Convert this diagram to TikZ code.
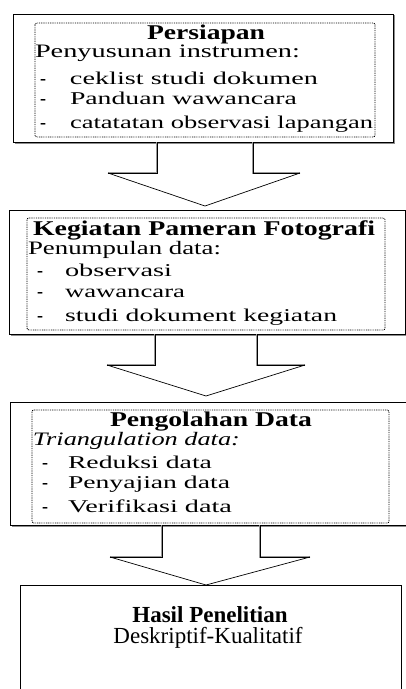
\documentclass[tikz,border=0pt]{standalone}
\usepackage{fontspec}
\usepackage{graphicx}
\setmainfont{Liberation Serif}
\newcommand\fitw[2]{\resizebox{#1pt}{\height}{#2}}
\newcommand\hdf{\fontsize{21}{24}\selectfont\bfseries}
\newcommand\subf{\fontsize{19}{22}\selectfont}
\newcommand\itmf{\fontsize{18}{20}\selectfont}
\newcommand\bigf{\fontsize{23}{27}\selectfont}
\begin{document}
\begin{tikzpicture}[x=1pt,y=-1pt,
  outerbox/.style={draw=black, line width=1pt},
  shadowline/.style={draw=black!45, line width=2.2pt},
  innerbox/.style={draw=black, line width=0.9pt, dash pattern=on 0.9pt off 0.9pt, rounded corners=2pt},
  txt/.style={inner sep=0pt, outer sep=0pt, anchor=base west},
  ctxt/.style={inner sep=0pt, outer sep=0pt, anchor=base},
  shaftline/.style={draw=black, line width=0.9pt, line join=miter, preaction={draw=black!40, line width=2.6pt}},
  headline/.style={draw=black, line width=0.7pt, line join=miter}]
\useasboundingbox (0,0) rectangle (406,689);
\clip (0,0) rectangle (406,689);
\fill[white] (0,0) rectangle (406,689);

% ---------- Box 1 ----------
\draw[shadowline] (394.2,15) -- (394.2,143.2) -- (15,143.2);
\draw[outerbox] (13,14) rectangle (393,142);
\draw[innerbox] (35,23) rectangle (375,137);
\node[txt] (t1a) at (147,39) {\fitw{118}{\hdf Persiapan}};
\node[txt] (t1b) at (35,57) {\fitw{265}{\subf Penyusunan instrumen:}};
\node[txt] (d1a) at (40,84) {\itmf\bfseries -};
\node[txt] (t1c) at (70,84) {\fitw{248}{\itmf ceklist studi dokumen}};
\node[txt] (d1b) at (40,104) {\itmf\bfseries -};
\node[txt] (t1d) at (70,104) {\fitw{227}{\itmf Panduan wawancara}};
\node[txt] (d1c) at (40,128) {\itmf\bfseries -};
\node[txt] (t1e) at (70,128) {\fitw{303}{\itmf catatatan observasi lapangan}};

% ---------- Arrow 1 ----------
\draw[shaftline] (157,142) -- (157,173) -- (108,173);
\draw[shaftline] (253,142) -- (253,173) -- (300,173);
\draw[headline] (108,173) -- (205,206) -- (300,173);

% ---------- Box 2 ----------
\draw[shadowline] (406.2,211) -- (406.2,335.2) -- (11,335.2);
\draw[outerbox] (9,210) rectangle (405,334);
\draw[innerbox] (27,218) rectangle (385,330);
\node[txt] (t2a) at (33,235) {\fitw{342}{\hdf Kegiatan Pameran Fotografi}};
\node[txt] (t2b) at (28,254) {\fitw{193}{\subf Penumpulan data:}};
\node[txt] (d2a) at (37,276) {\itmf\bfseries -};
\node[txt] (t2c) at (65,276) {\fitw{107}{\itmf observasi}};
\node[txt] (d2b) at (37,297) {\itmf\bfseries -};
\node[txt] (t2d) at (65,297) {\fitw{120}{\itmf wawancara}};
\node[txt] (d2c) at (37,321) {\itmf\bfseries -};
\node[txt] (t2e) at (65,321) {\fitw{272}{\itmf studi dokument kegiatan}};

% ---------- Arrow 2 ----------
\draw[shaftline] (155,334) -- (155,365) -- (107,365);
\draw[shaftline] (257,334) -- (257,365) -- (305,365);
\draw[headline] (107,365) -- (206,396) -- (305,365);

% ---------- Box 3 ----------
\draw[shadowline] (12,526.2) -- (415,526.2);
\draw[outerbox] (10,402) rectangle (414,525);
\draw[innerbox] (32,410) rectangle (389,523);
\node[txt] (t3a) at (110,426) {\fitw{202}{\hdf Pengolahan Data}};
\node[txt] (t3b) at (33,445) {\fitw{207}{\subf\itshape Triangulation data:}};
\node[txt] (d3a) at (42,468) {\itmf\bfseries -};
\node[txt] (t3c) at (68,468) {\fitw{144}{\itmf Reduksi data}};
\node[txt] (d3b) at (42,488) {\itmf\bfseries -};
\node[txt] (t3d) at (68,488) {\fitw{162}{\itmf Penyajian data}};
\node[txt] (d3c) at (42,512) {\itmf\bfseries -};
\node[txt] (t3e) at (68,512) {\fitw{164}{\itmf Verifikasi data}};

% ---------- Arrow 3 ----------
\draw[shaftline] (162,525) -- (162,557) -- (110,557);
\draw[shaftline] (260,525) -- (260,557) -- (310,557);
\draw[headline] (110,557) -- (206,585) -- (310,557);

% ---------- Box 4 ----------
\draw[draw=black, line width=1pt] (20,585) rectangle (401,700);
\node[ctxt] (t4a) at (210,622) {\bigf\bfseries Hasil Penelitian};
\node[ctxt] (t4b) at (208,643) {\bigf Deskriptif-Kualitatif};
\end{tikzpicture}
\end{document}
